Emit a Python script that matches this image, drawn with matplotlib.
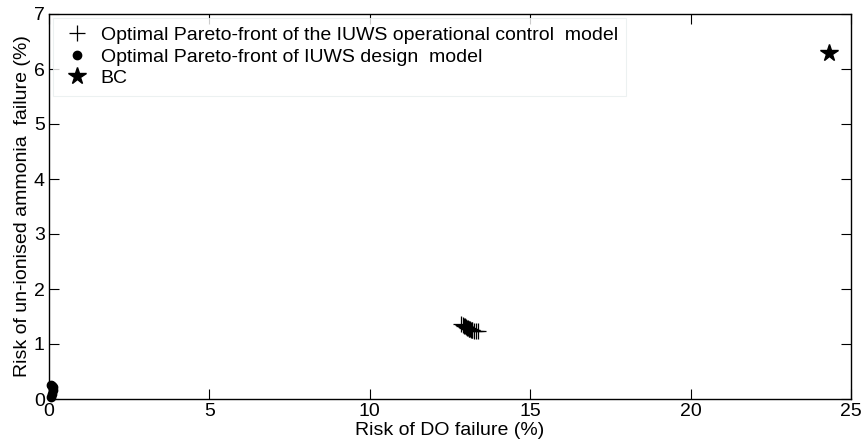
import numpy as np
import matplotlib
matplotlib.use('Agg')
import matplotlib.pyplot as plt

# operational control model pareto front
ctrl_do = [12.85, 12.9, 12.95, 12.98, 13.0, 13.03, 13.06, 13.08, 13.1, 13.12,
           13.15, 13.18, 13.2, 13.25, 13.3, 13.38]
ctrl_nh3 = [1.36, 1.34, 1.33, 1.32, 1.31, 1.30, 1.29, 1.28, 1.27, 1.27,
            1.26, 1.25, 1.25, 1.24, 1.24, 1.23]

# design model pareto front
design_do = [0.05, 0.08, 0.12, 0.14, 0.1, 0.07]
design_nh3 = [0.26, 0.24, 0.21, 0.16, 0.1, 0.04]

# base case
bc_do = [24.3]
bc_nh3 = [6.3]

plt.rcParams['font.family'] = ['Liberation Sans', 'DejaVu Sans']
fs = 14

fig = plt.figure(figsize=(8.63, 4.46), dpi=100)
ax = fig.add_axes([49/863, 47/446, 802/863, 385/446])

ax.plot(ctrl_do, ctrl_nh3, '+', color='black', markersize=12, markeredgewidth=0.9,
        label='Optimal Pareto-front of the IUWS operational control  model')
ax.plot(design_do, design_nh3, 'o', color='black', markersize=6, clip_on=False,
        label='Optimal Pareto-front of IUWS design  model')
ax.plot(bc_do, bc_nh3, '*', color='black', markersize=13,
        label='BC')

ax.set_xlim(0, 25)
ax.set_ylim(0, 7)
ax.set_xticks(np.arange(0, 26, 5))
ax.set_yticks(np.arange(0, 8, 1))
ax.tick_params(direction='in', top=True, right=True, labelsize=fs, length=7, width=0.8, pad=3)
for s in ax.spines.values():
    s.set_linewidth(1.0)
    s.set_color('black')

ax.set_xlabel('Risk of DO failure (%)', fontsize=fs, labelpad=1)
ax.set_ylabel('Risk of un-ionised ammonia  failure (%)', fontsize=fs, labelpad=2)

leg = ax.legend(loc='upper left', fontsize=fs, frameon=True, fancybox=False,
                borderaxespad=0.2, handletextpad=0.4, handlelength=1.6,
                borderpad=0.45, labelspacing=0.2)
leg.get_frame().set_edgecolor('#e8eeee')
leg.get_frame().set_linewidth(0.8)

fig.savefig('out.png', dpi=100)
